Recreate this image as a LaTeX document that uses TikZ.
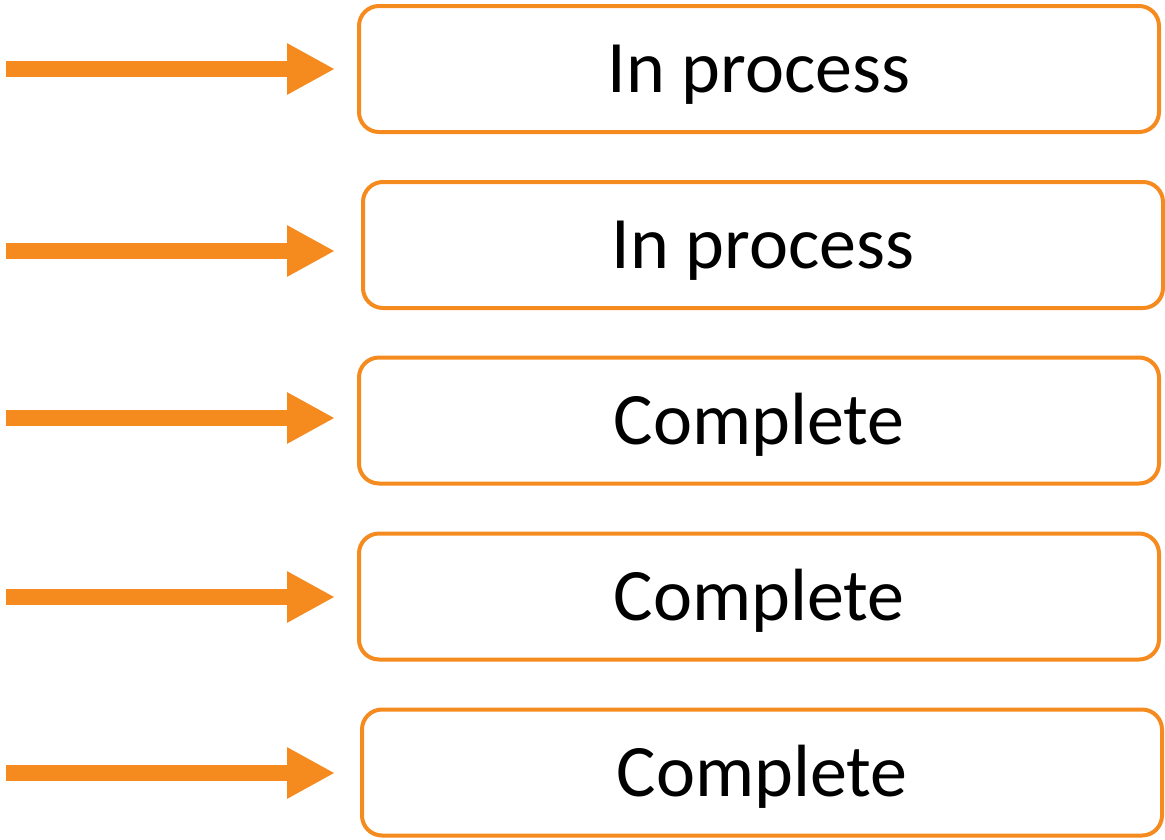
\documentclass[tikz,border=0pt]{standalone}
\usepackage{fontspec}
\setmainfont{Carlito}
\usetikzlibrary{arrows.meta,positioning}
\definecolor{procorange}{HTML}{F58A1F}

\begin{document}
\begin{tikzpicture}[x=1pt,y=-1pt,
    status/.style={draw=procorange, line width=4pt, rounded corners=20pt,
      minimum width=800pt, minimum height=126pt, inner sep=0pt,
      text height=47.5pt, text depth=0pt,
      font=\fontsize{74}{88}\selectfont},
    feed/.style={draw=procorange, line width=16pt,
      -{Triangle[length=48pt,width=48pt]}}]
        \useasboundingbox (0,0) rectangle (1165,839);
        %nodes
        \node[status] (b1) at (759, 69) {In process};
        \node[status] (b2) at (763, 245) {In process};
        \node[status] (b3) at (759, 420.5) {Complete};
        \node[status] (b4) at (759, 596.5) {Complete};
        \node[status] (b5) at (762, 772.5) {Complete};
        %arrow starts and ends
        \coordinate (s1) at (6, 69);   \coordinate (e1) at (335, 69);
        \coordinate (s2) at (6, 251);  \coordinate (e2) at (335, 251);
        \coordinate (s3) at (6, 418);  \coordinate (e3) at (335, 418);
        \coordinate (s4) at (6, 597);  \coordinate (e4) at (335, 597);
        \coordinate (s5) at (6, 773);  \coordinate (e5) at (335, 773);
        %arrows
        \foreach \i in {1,...,5}
          \draw[feed] (s\i) -- (e\i);
\end{tikzpicture}
\end{document}
